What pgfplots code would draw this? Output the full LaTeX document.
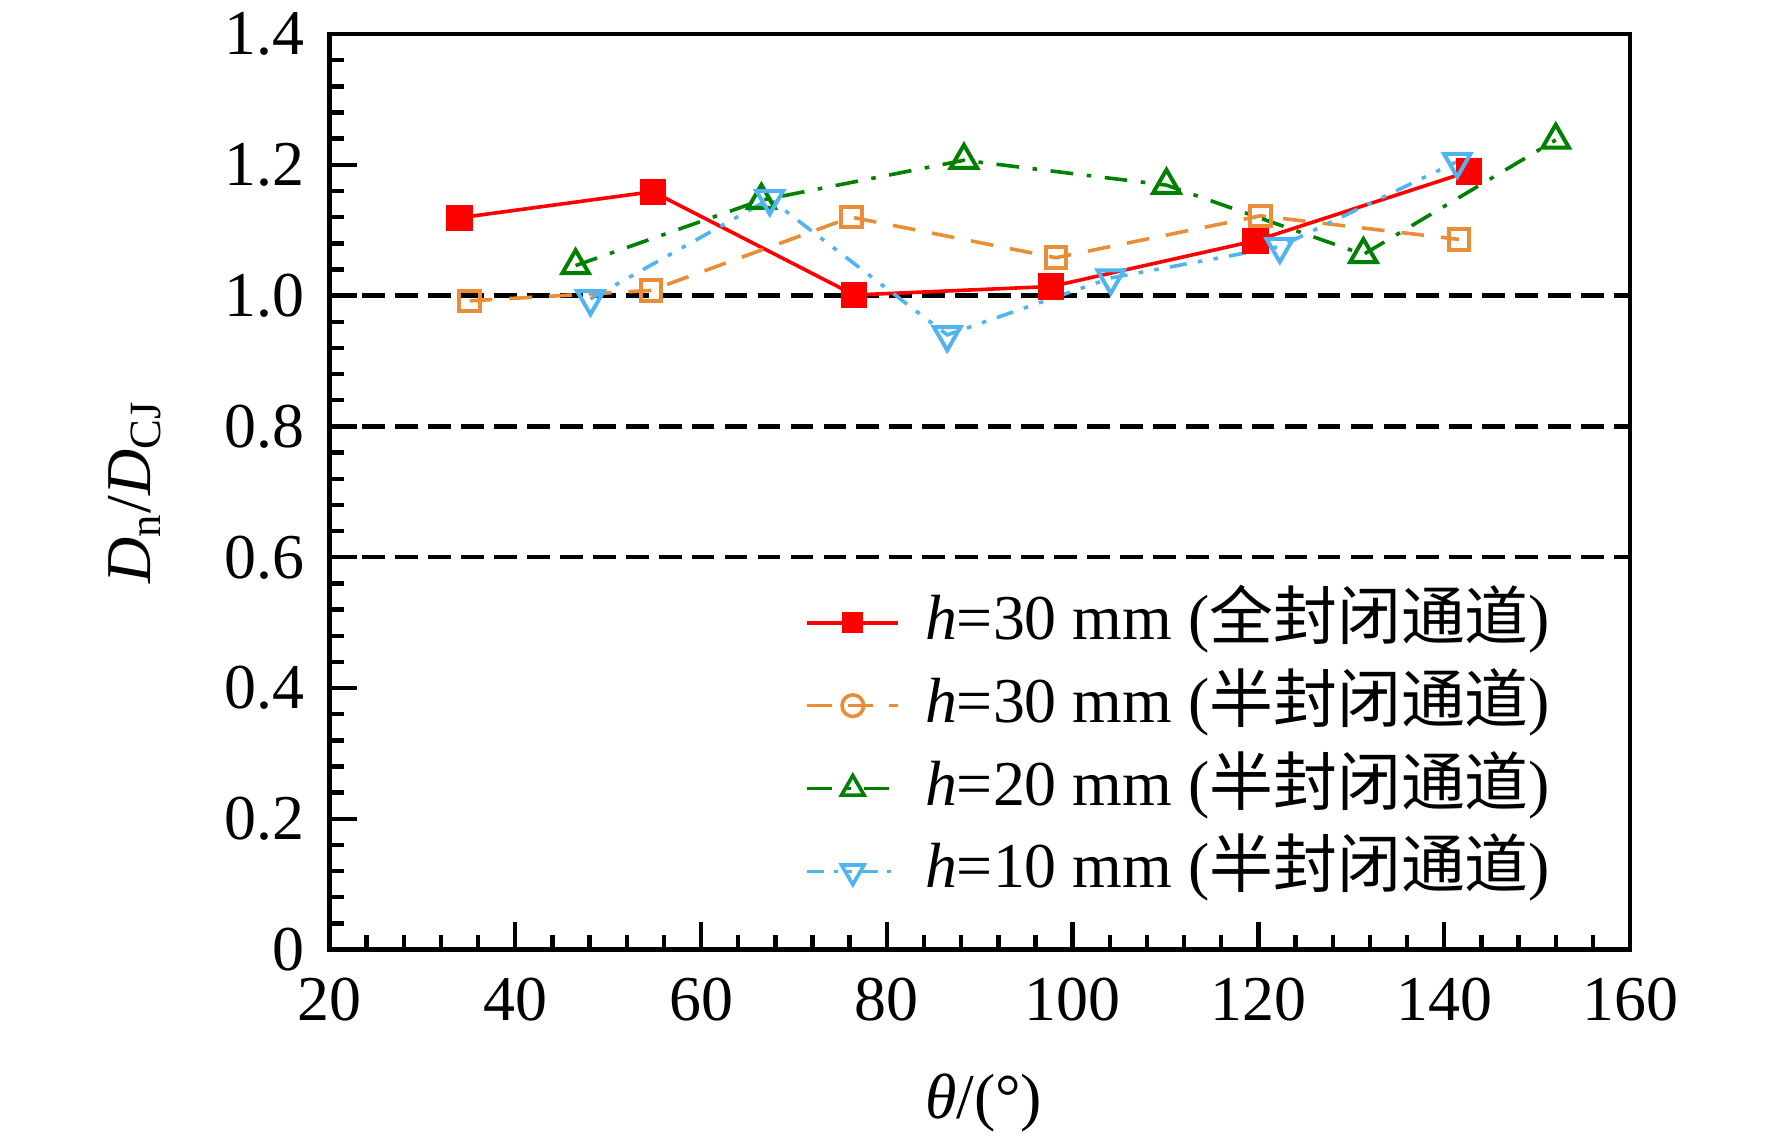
\documentclass[border=0pt]{standalone}
\usepackage{pgfplots}
\pgfplotsset{compat=1.18}
\usepackage{fontspec}
\setmainfont{Liberation Serif}
\newfontfamily\cjk{Noto Sans CJK SC}
\definecolor{cred}{RGB}{255,0,0}
\definecolor{corange}{RGB}{235,140,55}
\definecolor{cgreen}{RGB}{0,128,0}
\definecolor{ccyan}{RGB}{80,180,240}
\newcommand{\fs}{\fontsize{16}{19}\selectfont}
\begin{document}
\begin{tikzpicture}
\path[use as bounding box] (-2.9cm,-1.67cm) rectangle (12.7cm,8.36cm);
\begin{axis}[
  scale only axis,
  width=11.45cm, height=8.06cm,
  xmin=20, xmax=160, ymin=0, ymax=1.4,
  axis line style={line width=1.2pt},
  xtick={20,40,...,160},
  xticklabels={20,40,60,80,100,120,140,160},
  ytick={0,0.2,0.4,0.6,0.8,1.0,1.2,1.4},
  yticklabels={0,0.2,0.4,0.6,0.8,1.0,1.2,1.4},
  minor x tick num=4, minor y tick num=4,
  xtick pos=bottom, ytick pos=left,
  tick align=inside,
  major tick length=2.4mm, minor tick length=1.3mm,
  every tick/.style={line width=1.1pt, black},
  tick label style={font=\fs},
  xticklabel style={inner sep=0pt, yshift=-2.4mm},
  yticklabel style={inner sep=0pt, xshift=-2.1mm},
  label style={font=\fs},
  xlabel={\textit{θ}/(°)},
  ylabel={\textit{D}\textsubscript{n}/\textit{D}\textsubscript{CJ}},
  xlabel style={at={(axis description cs:0.503,-0.167)}, anchor=center},
  ylabel style={at={(axis description cs:-0.1496,0.5)}, anchor=center},
  legend style={at={(0.3655,0.392)}, anchor=north west, draw=none, fill=none,
    inner sep=0pt, row sep=1.8mm, font=\fs,
    nodes={inner sep=0pt, text height=4.2mm, text depth=1.3mm},
    /tikz/every odd column/.append style={column sep=2.2mm}},
  legend cell align=left,
  legend image code/.code={\draw[mark repeat=2,mark phase=2,#1] plot coordinates {(0cm,0cm) (0.4cm,0cm) (0.8cm,0cm)};},
]
% reference lines
\addplot[forget plot, black, line width=1.1pt, dash pattern=on 2mm off 0.9mm] coordinates {(20,1.0) (160,1.0)};
\addplot[forget plot, black, line width=1.1pt, dash pattern=on 2mm off 0.9mm] coordinates {(20,0.8) (160,0.8)};
\addplot[forget plot, black, line width=1.1pt, dash pattern=on 2mm off 0.9mm] coordinates {(20,0.6) (160,0.6)};

% h=30 mm full closed
\addplot[forget plot, cred, line width=0.9pt, mark=square*, mark size=1mm, mark options={solid, fill=cred}]
  coordinates {(34.0,1.119) (54.8,1.159) (76.5,1.001) (97.7,1.014) (119.7,1.084) (142.7,1.190)};
% h=30 mm half closed
\addplot[forget plot, corange, line width=0.9pt, dash pattern=on 2mm off 1.5mm, mark=square, mark size=0.9mm, mark options={solid, line width=1pt}]
  coordinates {(35.1,0.992) (54.6,1.008) (76.2,1.120) (98.2,1.058) (120.2,1.122) (141.6,1.086)};
% h=20 mm half closed
\addplot[forget plot, cgreen, line width=0.9pt, dash pattern=on 2mm off 1.2mm on 0.4mm off 1.2mm, mark=triangle, mark size=1.35mm, mark options={solid, line width=1pt}]
  coordinates {(46.5,1.046) (66.5,1.146) (88.3,1.207) (110.1,1.169) (131.3,1.063) (152.0,1.238)};
% h=10 mm half closed
\addplot[forget plot, ccyan, line width=0.9pt, dash pattern=on 1.5mm off 1mm on 0.4mm off 1mm on 0.4mm off 1mm, mark=triangle, mark size=1.35mm, mark options={solid, line width=1pt, rotate=180}]
  coordinates {(48.1,0.995) (67.4,1.148) (86.5,0.940) (104.1,1.027) (122.3,1.075) (141.4,1.205)};

\addlegendimage{cred, line width=0.9pt, mark=square*, mark size=0.75mm, mark options={solid, fill=cred}}
\addlegendentry{\textit{h}=30 mm ({\cjk 全封闭通道})}
\addlegendimage{corange, line width=0.9pt, dash pattern=on 2.2mm off 1.4mm, mark=o, mark size=0.95mm, mark options={solid, line width=0.9pt}}
\addlegendentry{\textit{h}=30 mm ({\cjk 半封闭通道})}
\addlegendimage{cgreen, line width=0.9pt, dash pattern=on 2.2mm off 1.2mm on 0.4mm off 1.2mm, mark=triangle, mark size=1.15mm, mark options={solid, line width=0.9pt}}
\addlegendentry{\textit{h}=20 mm ({\cjk 半封闭通道})}
\addlegendimage{ccyan, line width=0.9pt, dash pattern=on 1.5mm off 0.8mm on 0.4mm off 0.8mm on 0.4mm off 0.8mm, mark=triangle, mark size=1.15mm, mark options={solid, line width=0.9pt, rotate=180}}
\addlegendentry{\textit{h}=10 mm ({\cjk 半封闭通道})}
\end{axis}
\end{tikzpicture}
\end{document}
